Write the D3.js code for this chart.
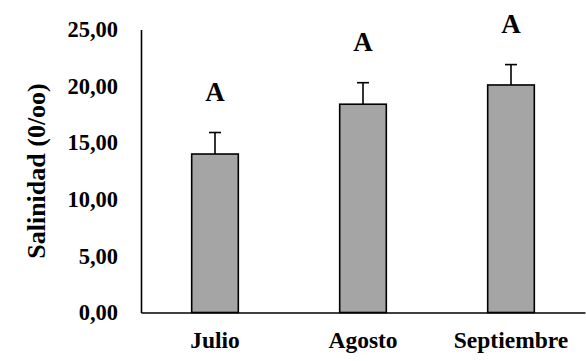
<!DOCTYPE html>
<html>
<head>
<meta charset="utf-8">
<script src="https://cdn.jsdelivr.net/npm/d3@7"></script>
<style>
  html, body { margin: 0; padding: 0; background: #fff; }
</style>
</head>
<body>
<svg id="chart" width="586" height="361"></svg>
<script>
// Monthly mean salinity with standard error and group letters
const months = ["Julio", "Agosto", "Septiembre"];
const salinity = [14.0, 18.4, 20.1];
const errors = [1.9, 1.9, 1.8];
const groups = ["A", "A", "A"];
const yTicks = [0, 5, 10, 15, 20, 25];

const W = 586, H = 361;
const margin = { top: 29.5, right: 1, bottom: 48.5, left: 141 };
const FONT = "'Liberation Serif', 'Times New Roman', Times, serif";

const svg = d3.select("#chart");

const x = d3.scaleBand()
  .domain(months)
  .range([margin.left, W - margin.right])
  .paddingInner(0.685)
  .paddingOuter(0.3425);

const y = d3.scaleLinear()
  .domain([0, 25])
  .range([H - margin.bottom, margin.top]);

const fmt = v => d3.format(".2f")(v).replace(".", ",");

// Bars
svg.append("g")
  .selectAll("rect")
  .data(months)
  .join("rect")
  .attr("x", d => x(d))
  .attr("y", (d, i) => y(salinity[i]))
  .attr("width", x.bandwidth())
  .attr("height", (d, i) => y(0) - y(salinity[i]))
  .attr("fill", "#a5a5a5")
  .attr("stroke", "#000")
  .attr("stroke-width", 1.6);

// Error bars (upper only)
const eb = svg.append("g").attr("stroke", "#000").attr("stroke-width", 1.6);
months.forEach((m, i) => {
  const cx = x(m) + x.bandwidth() / 2;
  eb.append("line")
    .attr("x1", cx).attr("x2", cx)
    .attr("y1", y(salinity[i])).attr("y2", y(salinity[i] + errors[i]));
  eb.append("line")
    .attr("x1", cx - 6).attr("x2", cx + 6)
    .attr("y1", y(salinity[i] + errors[i])).attr("y2", y(salinity[i] + errors[i]));
});

// Group letters
svg.append("g")
  .selectAll("text")
  .data(months)
  .join("text")
  .attr("x", d => x(d) + x.bandwidth() / 2)
  .attr("y", (d, i) => y(salinity[i] + errors[i]) - 32)
  .attr("text-anchor", "middle")
  .style("font-family", FONT)
  .style("font-weight", "bold")
  .style("font-size", "27px")
  .text((d, i) => groups[i]);

// Y axis
const yAxis = svg.append("g")
  .attr("transform", `translate(${margin.left},0)`)
  .call(d3.axisLeft(y).tickValues(yTicks).tickFormat(fmt).tickSize(0).tickPadding(23));
yAxis.select(".domain").attr("stroke", "#000").attr("stroke-width", 1.6);
yAxis.selectAll("text")
  .attr("fill", "#000")
  .style("font-family", FONT)
  .style("font-weight", "bold")
  .style("font-size", "22.5px");

// X axis
const xAxis = svg.append("g")
  .attr("transform", `translate(0,${H - margin.bottom})`)
  .call(d3.axisBottom(x).tickSize(0).tickPadding(19));
xAxis.select(".domain").attr("stroke", "#000").attr("stroke-width", 1.6);
xAxis.selectAll("text")
  .attr("fill", "#000")
  .style("font-family", FONT)
  .style("font-weight", "bold")
  .style("font-size", "23.5px");

// Y axis title
svg.append("text")
  .attr("transform", `translate(45,${(y(0) + y(25)) / 2}) rotate(-90)`)
  .attr("text-anchor", "middle")
  .style("font-family", FONT)
  .style("font-weight", "bold")
  .style("font-size", "26px")
  .text("Salinidad (0/oo)");
</script>
</body>
</html>
